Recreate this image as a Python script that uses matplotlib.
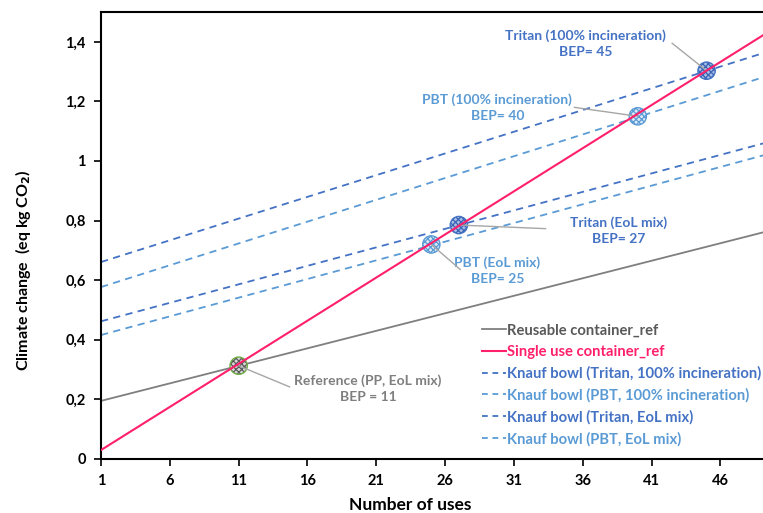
import matplotlib
matplotlib.use("Agg")
import matplotlib.pyplot as plt

plt.rcParams['font.family'] = ['Lato', 'DejaVu Sans']
plt.rcParams['font.weight'] = 'bold'
plt.rcParams['hatch.linewidth'] = 0.9

# Number of uses at both ends of each line
uses = [1, 50]

# Climate change (eq kg CO2) at 1 and 50 uses
reusable_ref = [0.195, 0.771]
single_use_ref = [0.030, 1.448]
tritan_incin = [0.661, 1.375]
pbt_incin = [0.577, 1.294]
tritan_eol = [0.462, 1.070]
pbt_eol = [0.416, 1.030]

series_labels = [
    "Reusable container_ref",
    "Single use container_ref",
    "Knauf bowl (Tritan, 100% incineration)",
    "Knauf bowl (PBT, 100% incineration)",
    "Knauf bowl (Tritan, EoL mix)",
    "Knauf bowl (PBT, EoL mix)",
]

# Break-even points
bep_uses = [11, 25, 27, 40, 45]
bep_values = [0.313, 0.720, 0.785, 1.150, 1.303]
bep_labels = [
    "Reference (PP, EoL mix)\nBEP = 11",
    "PBT (EoL mix)\nBEP= 25",
    "Tritan (EoL mix)\nBEP= 27",
    "PBT (100% incineration)\nBEP= 40",
    "Tritan (100% incineration)\nBEP= 45",
]

x_ticks = [1, 6, 11, 16, 21, 26, 31, 36, 41, 46]
y_ticks = [0, 0.2, 0.4, 0.6, 0.8, 1.0, 1.2, 1.4]
y_tick_labels = ["0", "0,2", "0,4", "0,6", "0,8", "1", "1,2", "1,4"]

GRAY = "#7f7f7f"
PINK = "#ff1f6b"
DBLUE = "#4472c4"
LBLUE = "#5b9bd5"
DASH = (0, (4, 3))

fig = plt.figure(figsize=(7.63, 5.13), dpi=100)
ax = fig.add_axes([0.1324, 0.1053, 0.8676, 0.8713])

ax.plot(uses, reusable_ref, color=GRAY, lw=1.3, label=series_labels[0], zorder=2)
ax.plot(uses, single_use_ref, color=PINK, lw=1.5, label=series_labels[1], zorder=6)
ax.plot(uses, tritan_incin, color=DBLUE, lw=1.3, ls=DASH, label=series_labels[2], zorder=2)
ax.plot(uses, pbt_incin, color=LBLUE, lw=1.3, ls=DASH, label=series_labels[3], zorder=2)
ax.plot(uses, tritan_eol, color=DBLUE, lw=1.3, ls=DASH, label=series_labels[4], zorder=2)
ax.plot(uses, pbt_eol, color=LBLUE, lw=1.3, ls=DASH, label=series_labels[5], zorder=2)

# Break-even markers: hatched fill plus an outline ring
hatch_color = ["#595959", "#5b9bd5", "#3a64b4", "#5b9bd5", "#3a64b4"]
base_color = ["#d9d9d9", "#deebf7", "#a9bde6", "#deebf7", "#a9bde6"]
ring_color = ["#70ad47", "#5b9bd5", "#4472c4", "#5b9bd5", "#4472c4"]
label_colors = [GRAY, LBLUE, DBLUE, LBLUE, DBLUE]
text_pos = [(20.4, 0.237), (29.8, 0.632), (38.6, 0.765), (29.8, 1.179), (36.2, 1.394)]
line_end = [(14.7, 0.242), (27.1, 0.636), (33.3, 0.773), (35.4, 1.180), (42.5, 1.395)]

for i in range(len(bep_uses)):
    ax.scatter([bep_uses[i]], [bep_values[i]], s=155, facecolor=base_color[i],
               edgecolor="none", zorder=4)
    ax.scatter([bep_uses[i]], [bep_values[i]], s=155, facecolor="none",
               edgecolor=hatch_color[i], hatch="xxxxxx", linewidth=0, zorder=4)
    ax.scatter([bep_uses[i]], [bep_values[i]], s=155, facecolor="none",
               edgecolor=ring_color[i], linewidth=1.0, zorder=4)
    ax.plot([bep_uses[i], line_end[i][0]], [bep_values[i], line_end[i][1]],
            color="#a6a6a6", lw=1.0, zorder=5)
    ax.text(text_pos[i][0], text_pos[i][1], bep_labels[i], color=label_colors[i],
            ha="center", va="center", fontsize=10, fontweight="bold", linespacing=1.4)

ax.set_xlim(1, 49.1)
ax.set_ylim(0, 1.5)
ax.set_xticks(x_ticks)
ax.set_xticklabels([str(t) for t in x_ticks])
ax.set_yticks(y_ticks)
ax.set_yticklabels(y_tick_labels)
ax.tick_params(axis="both", direction="out", length=5, width=1.2, labelsize=10.5, pad=6)
for lab in ax.get_xticklabels() + ax.get_yticklabels():
    lab.set_fontweight("bold")

for side in ["left", "bottom", "top"]:
    ax.spines[side].set_linewidth(1.5)
    ax.spines[side].set_color("black")
ax.spines["right"].set_visible(False)

ax.set_xlabel("Number of uses", fontsize=12.5, fontweight="bold")
ax.xaxis.set_label_coords(0.467, -0.103)
ax.xaxis.label.set_va("center")
ax.set_ylabel("Climate change  (eq kg CO$_\\mathbf{2}$)", fontsize=11.5, fontweight="bold")
ax.yaxis.set_label_coords(-0.118, 0.423)
ax.yaxis.label.set_va("center")

leg = ax.legend(loc="upper left", bbox_to_anchor=(0.5755, 0.303), frameon=False,
                fontsize=10.6, handlelength=1.6, handletextpad=0.1, labelspacing=0.5,
                borderpad=0, borderaxespad=0)
for line in leg.get_lines():
    if line.get_linestyle() != "-":
        line.set_dashes((3.2, 2.6))
for text, col in zip(leg.get_texts(), ["#595959", PINK, DBLUE, LBLUE, DBLUE, LBLUE]):
    text.set_color(col)
    text.set_fontweight("bold")

fig.savefig("out.png", dpi=100)
